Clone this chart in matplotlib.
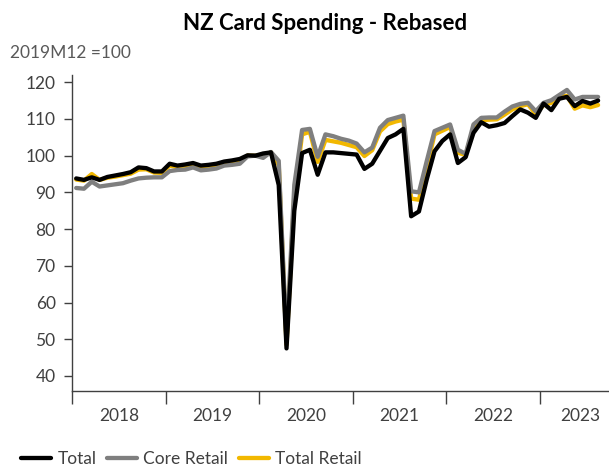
import numpy as np
import matplotlib
matplotlib.use("Agg")
import matplotlib.pyplot as plt
from matplotlib.ticker import FixedLocator, NullFormatter, FixedFormatter

# Monthly data, Jan 2018 .. Aug 2023 (2019M12 = 100)
months = [f"{y}M{m:02d}" for y in range(2018, 2024) for m in range(1, 13)][:68]

total = [93.8, 93.4, 94.1, 93.4, 94.2, 94.6, 95.0, 95.5, 96.8, 96.6, 95.7, 95.7,
         97.8, 97.3, 97.6, 98.0, 97.3, 97.5, 97.8, 98.4, 98.7, 99.1, 100.1, 100.0,
         100.6, 100.9, 92.0, 47.5, 85.0, 100.7, 101.6, 94.8, 100.9, 100.9, 100.7, 100.5,
         100.3, 96.4, 97.8, 101.3, 104.8, 105.8, 107.3, 83.5, 84.8, 93.5, 101.2, 104.0,
         105.8, 98.0, 99.6, 106.2, 109.1, 107.9, 108.3, 108.9, 110.8, 112.6, 111.7, 110.3,
         114.2, 112.4, 115.5, 116.0, 113.5, 114.9, 114.2, 115.0]

core_retail = [91.2, 91.0, 92.9, 91.6, 91.9, 92.2, 92.5, 93.2, 93.8, 94.0, 94.1, 94.1,
               95.8, 96.1, 96.2, 96.8, 96.0, 96.2, 96.5, 97.3, 97.5, 97.8, 99.8, 100.0,
               99.4, 101.0, 98.6, 49.5, 92.0, 107.0, 107.3, 99.7, 105.8, 105.3, 104.6, 104.1,
               103.3, 100.9, 102.2, 107.6, 109.7, 110.3, 110.9, 90.3, 90.0, 98.5, 106.7, 107.6,
               108.5, 101.6, 100.5, 108.5, 110.3, 110.4, 110.4, 112.0, 113.4, 114.1, 114.4, 112.1,
               114.4, 115.1, 116.5, 117.9, 115.3, 116.0, 116.0, 116.0]

total_retail = [93.5, 93.2, 95.0, 93.4, 94.0, 94.3, 94.7, 95.1, 96.2, 96.3, 95.4, 95.3,
                97.3, 96.9, 97.1, 97.7, 96.9, 97.1, 97.3, 98.0, 98.3, 98.6, 100.0, 100.0,
                100.0, 100.9, 97.5, 48.5, 89.0, 105.8, 106.5, 98.3, 104.3, 103.9, 103.5, 102.9,
                102.3, 99.9, 101.5, 106.6, 108.6, 109.3, 109.8, 88.3, 88.0, 96.8, 105.8, 106.8,
                107.8, 100.8, 100.2, 107.6, 109.7, 109.8, 109.9, 111.2, 112.6, 113.5, 114.0, 111.3,
                113.8, 114.4, 116.0, 116.3, 112.8, 113.7, 113.2, 113.8]

year_labels = ["2018", "2019", "2020", "2021", "2022", "2023"]
y_ticks = [40, 50, 60, 70, 80, 90, 100, 110, 120]

FONT = ["Lato", "DejaVu Sans"]
plt.rcParams["font.family"] = FONT
TXT = "#404040"

W, H = 609, 466
fig = plt.figure(figsize=(W / 100, H / 100), dpi=100)
ax = fig.add_axes([72.3 / W, 1 - 391.0 / H, (W - 72.3) / W, (391.0 - 74.9) / H])

x = np.arange(len(total))
c_yellow = "#F2B800"
c_gray = "#7F7F7F"
kw = dict(lw=3.1, solid_joinstyle="round", solid_capstyle="round")
ax.plot(x, total_retail, color=c_yellow, label="Total Retail", zorder=2, **kw)
ax.plot(x, core_retail, color=c_gray, label="Core Retail", zorder=3, **kw)
ax.plot(x, total, color="black", label="Total", zorder=4, **kw)

ax.set_xlim(-0.5, 68.4)
ax.set_ylim(35.9, 122.0)

for s in ["top", "right"]:
    ax.spines[s].set_visible(False)
for s in ["left", "bottom"]:
    ax.spines[s].set_color("#404040")
    ax.spines[s].set_linewidth(1.0)

ax.yaxis.set_major_locator(FixedLocator(y_ticks))
ax.set_yticklabels([str(v) for v in y_ticks])
ax.tick_params(axis="y", length=6, width=1.0, color="#404040", pad=6,
               labelsize=12.5, labelcolor=TXT)

year_bounds = [-0.5 + 12 * k for k in range(len(year_labels))]
label_pos = [5.5 + 12 * k for k in range(len(year_labels) - 1)] + [64.7]
ax.xaxis.set_major_locator(FixedLocator(year_bounds))
ax.xaxis.set_major_formatter(NullFormatter())
ax.xaxis.set_minor_locator(FixedLocator(label_pos))
ax.xaxis.set_minor_formatter(FixedFormatter(year_labels))
ax.tick_params(axis="x", which="major", length=9, width=1.0, color="#404040")
ax.tick_params(axis="x", which="minor", length=0, pad=12, labelsize=12.5, labelcolor=TXT)

fig.text(325.5 / W, 1 - 24 / H, "NZ Card Spending - Rebased", ha="center", va="center",
         fontsize=16, fontweight="bold", color="black")
fig.text(10 / W, 1 - 53 / H, "2019M12 =100", ha="left", va="center",
         fontsize=12.5, color="#595959")

h, l = ax.get_legend_handles_labels()
order = [2, 1, 0]
fig.legend([h[i] for i in order], [l[i] for i in order], loc="center left",
           bbox_to_anchor=(21 / W, 1 - 459.5 / H), ncol=3, frameon=False,
           fontsize=12.5, labelcolor=TXT, handlelength=1.75, handletextpad=0.35,
           columnspacing=0.6, borderpad=0, borderaxespad=0)

fig.savefig("out.png", dpi=100)
